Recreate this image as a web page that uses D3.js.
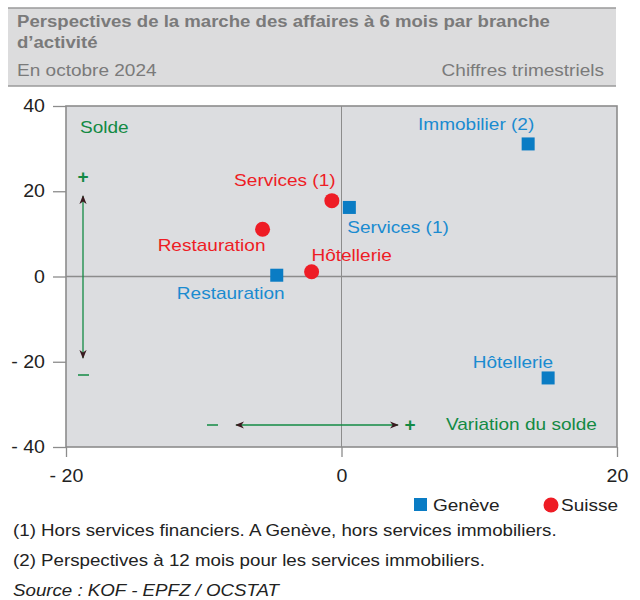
<!DOCTYPE html>
<html><head><meta charset="utf-8">
<script src="https://cdn.jsdelivr.net/npm/d3@7"></script>
<style>body{margin:0;background:#fff;} svg{display:block;font-family:"Liberation Sans",Arial,sans-serif;}</style>
</head><body>
<svg id="c" width="640" height="600"></svg>
<script>
const title = ["Perspectives de la marche des affaires à 6 mois par branche", "d’activité"];
const subtitleLeft = "En octobre 2024";
const subtitleRight = "Chiffres trimestriels";
const xTicks = [-20, 0, 20];
const yTicks = [40, 20, 0, -20, -40];
const geneveLabels = ["Immobilier (2)", "Services (1)", "Restauration", "Hôtellerie"];
const geneveX = [13.55, 0.57, -4.7, 15.0];
const geneveY = [31.1, 16.2, 0.3, -23.8];
const suisseLabels = ["Services (1)", "Restauration", "Hôtellerie"];
const suisseX = [-0.7, -5.73, -2.17];
const suisseY = [17.8, 11.1, 1.1];
const footnotes = ["(1) Hors services financiers. A Genève, hors services immobiliers.", "(2) Perspectives à 12 mois pour les services immobiliers."];
const source = "Source : KOF - EPFZ / OCSTAT";

const BLUE = "#0a7cc4", BLUE_T = "#1a8bd0", RED = "#ee1c25", GREEN = "#138a44", GRAY = "#8c8c8c";
const K = 1.12;
const svg = d3.select("#c");
// place text at (x,y) with horizontal stretch k
function put(sel, fx, fy, k) {
  return sel.attr("transform", (d, i) => `translate(${typeof fx === "function" ? fx(d, i) : fx},${typeof fy === "function" ? fy(d, i) : fy}) scale(${k || K},1)`);
}

// header
svg.append("rect").attr("x", 8).attr("y", 8).attr("width", 608).attr("height", 78).attr("fill", "#dcdcdd");
svg.append("line").attr("x1", 8).attr("x2", 616).attr("y1", 8).attr("y2", 8).attr("stroke", "#9a9a9a").attr("stroke-width", 1.5);
svg.append("line").attr("x1", 8).attr("x2", 616).attr("y1", 86).attr("y2", 86).attr("stroke", "#9a9a9a").attr("stroke-width", 1.5);
put(svg.selectAll("text.t").data(title).join("text").attr("class", "t")
  .attr("font-size", 17).attr("font-weight", "bold").attr("fill", "#7a7a7a").text(d => d), 17, (d, i) => 27 + i * 21, 1.094);
put(svg.append("text").attr("font-size", 17).attr("fill", "#7a7a7a").text(subtitleLeft), 17, 76);
put(svg.append("text").attr("text-anchor", "end").attr("font-size", 17).attr("fill", "#7a7a7a").text(subtitleRight), 604, 76);

const L = 66, R = 617, T = 106, B = 447;
const x = d3.scaleLinear().domain([-20, 20]).range([L, R]);
const y = d3.scaleLinear().domain([-40, 40]).range([B, T]);

svg.append("rect").attr("x", L).attr("y", T).attr("width", R - L).attr("height", B - T).attr("fill", "#dcdde0");

// axes
const fmt = d => d < 0 ? "- " + Math.abs(d) : d;
const yAxis = svg.append("g").attr("transform", `translate(${L},0)`).call(d3.axisLeft(y).tickValues(yTicks).tickSize(13).tickFormat(fmt));
const xAxis = svg.append("g").attr("transform", `translate(0,${B})`).call(d3.axisBottom(x).tickValues(xTicks).tickSize(10).tickFormat(fmt));
[xAxis, yAxis].forEach(a => {
  a.select(".domain").remove();
  a.selectAll("line").attr("stroke", GRAY).attr("stroke-width", 1.3);
  a.selectAll("text").attr("font-size", 17.5).attr("fill", "#222").attr("font-family", "Liberation Sans, Arial, sans-serif");
});
yAxis.selectAll("text").attr("x", null).attr("dy", "0.32em").attr("transform", `translate(-21,0) scale(${K},1)`);
xAxis.selectAll("text").attr("y", null).attr("dy", "0.71em").attr("transform", `translate(0,23) scale(${K},1)`);
// zero lines
svg.append("line").attr("x1", x(0)).attr("x2", x(0)).attr("y1", T).attr("y2", B).attr("stroke", GRAY).attr("stroke-width", 1);
svg.append("line").attr("x1", L).attr("x2", R).attr("y1", y(0)).attr("y2", y(0)).attr("stroke", GRAY).attr("stroke-width", 1.3);
// frame
svg.append("rect").attr("x", L).attr("y", T).attr("width", R - L).attr("height", B - T).attr("fill", "none").attr("stroke", GRAY).attr("stroke-width", 1.6);

// annotations
const defs = svg.append("defs");
defs.append("marker").attr("id", "ah").attr("viewBox", "0 0 10 10").attr("refX", 9).attr("refY", 5)
  .attr("markerWidth", 9).attr("markerHeight", 9).attr("markerUnits", "userSpaceOnUse").attr("orient", "auto-start-reverse")
  .append("path").attr("d", "M0,1 L10,5 L0,9 L3,5 Z").attr("fill", "#3a1a1f");
const ann = svg.append("g").attr("fill", GREEN).attr("font-size", 17);
put(ann.append("text").text("Solde"), 80, 133);
put(ann.append("text").attr("text-anchor", "middle").attr("font-size", 19).attr("font-weight", "bold").text("+"), 83, 183, 1);
ann.append("line").attr("x1", 83).attr("x2", 83).attr("y1", 196).attr("y2", 358).attr("stroke", GREEN).attr("stroke-width", 1.3)
  .attr("marker-start", "url(#ah)").attr("marker-end", "url(#ah)");
ann.append("line").attr("x1", 78).attr("x2", 89).attr("y1", 375).attr("y2", 375).attr("stroke", GREEN).attr("stroke-width", 1.5);
ann.append("line").attr("x1", 207).attr("x2", 218).attr("y1", 425).attr("y2", 425).attr("stroke", GREEN).attr("stroke-width", 1.5);
ann.append("line").attr("x1", 236).attr("x2", 398).attr("y1", 425).attr("y2", 425).attr("stroke", GREEN).attr("stroke-width", 1.3)
  .attr("marker-start", "url(#ah)").attr("marker-end", "url(#ah)");
put(ann.append("text").attr("text-anchor", "middle").attr("font-size", 19).attr("font-weight", "bold").text("+"), 410, 431, 1);
put(ann.append("text").text("Variation du solde"), 446, 430);

// markers
const gData = geneveLabels.map((l, i) => ({l, x: geneveX[i], y: geneveY[i]}));
const sData = suisseLabels.map((l, i) => ({l, x: suisseX[i], y: suisseY[i]}));
const S = 13;
svg.selectAll("rect.g").data(gData).join("rect").attr("class", "g")
  .attr("x", d => x(d.x) - S / 2).attr("y", d => y(d.y) - S / 2).attr("width", S).attr("height", S).attr("fill", BLUE);
svg.selectAll("circle.s").data(sData).join("circle").attr("class", "s")
  .attr("cx", d => x(d.x)).attr("cy", d => y(d.y)).attr("r", 7.5).attr("fill", RED);

// labels (offsets relative to markers)
const gOff = [[-52, -14, "middle"], [-2, 26, "start"], [-46, 24, "middle"], [5, -10, "end"]];
const sOff = [[-47, -15, "middle"], [-51, 22, "middle"], [40, -11, "middle"]];
put(svg.selectAll("text.gl").data(gData).join("text").attr("class", "gl")
  .attr("text-anchor", (d, i) => gOff[i][2]).attr("font-size", 17).attr("fill", BLUE_T).text(d => d.l),
  (d, i) => x(d.x) + gOff[i][0], (d, i) => y(d.y) + gOff[i][1]);
put(svg.selectAll("text.sl").data(sData).join("text").attr("class", "sl")
  .attr("text-anchor", (d, i) => sOff[i][2]).attr("font-size", 17).attr("fill", RED).text(d => d.l),
  (d, i) => x(d.x) + sOff[i][0], (d, i) => y(d.y) + sOff[i][1]);

// legend
svg.append("rect").attr("x", 414).attr("y", 498).attr("width", 13).attr("height", 13).attr("fill", BLUE);
put(svg.append("text").attr("font-size", 17).attr("fill", "#222").text("Genève"), 433, 511);
svg.append("circle").attr("cx", 551).attr("cy", 505).attr("r", 7.5).attr("fill", RED);
put(svg.append("text").attr("font-size", 17).attr("fill", "#222").text("Suisse"), 561, 511);

// footnotes
put(svg.selectAll("text.fn").data(footnotes).join("text").attr("class", "fn")
  .attr("font-size", 16.5).attr("fill", "#222").text(d => d), 13, (d, i) => 536 + i * 30, 1.135);
put(svg.append("text").attr("font-size", 16.5).attr("font-style", "italic").attr("fill", "#222").text(source), 13, 596, 1.135);
</script>
</body></html>
